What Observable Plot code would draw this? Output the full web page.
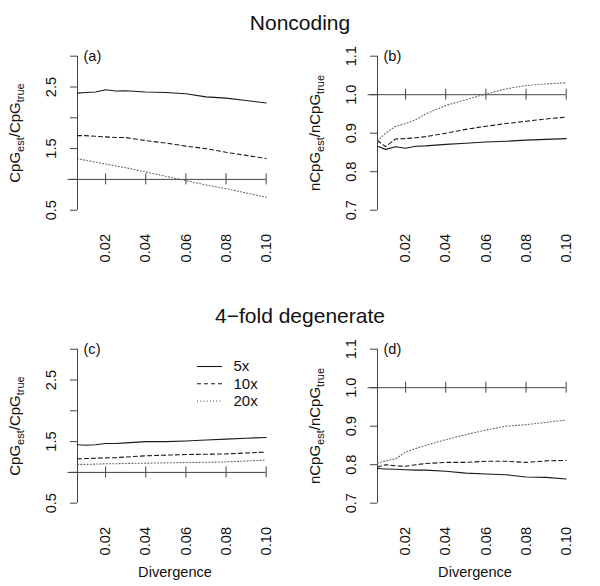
<!DOCTYPE html>
<html><head><meta charset="utf-8">
<script src="https://cdn.jsdelivr.net/npm/d3@7"></script>
<script src="https://cdn.jsdelivr.net/npm/@observablehq/plot@0.6"></script>
<style>
body{margin:0;background:#fff;}
#wrap{position:relative;width:600px;height:586px;font-family:"Liberation Sans",Arial,Helvetica,sans-serif;color:#111;overflow:hidden;}
.title{position:absolute;left:0;width:600px;text-align:center;font-size:21px;line-height:21px;}
.panel{position:absolute;width:300px;height:293px;}
.panel svg{overflow:visible;}
</style></head><body>
<div id="wrap">
  <div class="title" style="top:12px">Noncoding</div>
  <div class="title" style="top:305px">4−fold degenerate</div>
  <div class="panel" id="pa" style="left:0;top:0"></div>
  <div class="panel" id="pb" style="left:300px;top:0"></div>
  <div class="panel" id="pc" style="left:0;top:293px"></div>
  <div class="panel" id="pd" style="left:300px;top:293px"></div>
</div>
<script>
// ---- data ----
const divergence = [0.006, 0.01, 0.015, 0.02, 0.025, 0.03, 0.04, 0.05, 0.06, 0.07, 0.08, 0.09, 0.10];
const coverage = ["5x", "10x", "20x"];
const xTicks = [0.02, 0.04, 0.06, 0.08, 0.10];
const cpgTicks = [3.0, 2.5, 2.0, 1.5, 1.0, 0.5];
const cpgTickLabels = [2.5, 1.5, 0.5];
const ncpgTicks = [1.1, 1.0, 0.9, 0.8, 0.7];
const ncpgTickLabels = [1.1, 1.0, 0.9, 0.8, 0.7];

// (a) Noncoding CpG ratio
const ncCpG5x  = [2.40, 2.41, 2.42, 2.455, 2.435, 2.44, 2.42, 2.41, 2.39, 2.34, 2.32, 2.28, 2.24];
const ncCpG10x = [1.71, 1.71, 1.70, 1.69, 1.68, 1.68, 1.63, 1.59, 1.54, 1.50, 1.44, 1.39, 1.34];
const ncCpG20x = [1.34, 1.31, 1.28, 1.25, 1.22, 1.19, 1.12, 1.05, 0.98, 0.91, 0.85, 0.78, 0.71];
// (b) Noncoding nCpG ratio
const ncNonCpG5x  = [0.866, 0.858, 0.865, 0.861, 0.866, 0.867, 0.871, 0.874, 0.877, 0.879, 0.882, 0.884, 0.886];
const ncNonCpG10x = [0.881, 0.865, 0.885, 0.886, 0.888, 0.891, 0.900, 0.910, 0.918, 0.925, 0.931, 0.937, 0.942];
const ncNonCpG20x = [0.880, 0.900, 0.918, 0.925, 0.935, 0.950, 0.972, 0.987, 1.002, 1.015, 1.024, 1.028, 1.031];
// (c) 4-fold CpG ratio
const ffCpG5x  = [1.45, 1.44, 1.45, 1.47, 1.47, 1.48, 1.50, 1.50, 1.51, 1.525, 1.54, 1.555, 1.567];
const ffCpG10x = [1.22, 1.225, 1.23, 1.235, 1.24, 1.25, 1.27, 1.28, 1.29, 1.295, 1.30, 1.315, 1.33];
const ffCpG20x = [1.13, 1.13, 1.135, 1.14, 1.14, 1.145, 1.15, 1.155, 1.16, 1.165, 1.17, 1.185, 1.20];
// (d) 4-fold nCpG ratio
const ffNonCpG5x  = [0.790, 0.789, 0.788, 0.787, 0.786, 0.786, 0.783, 0.778, 0.776, 0.774, 0.768, 0.767, 0.763];
const ffNonCpG10x = [0.794, 0.800, 0.797, 0.796, 0.800, 0.803, 0.806, 0.806, 0.809, 0.809, 0.806, 0.810, 0.811];
const ffNonCpG20x = [0.804, 0.810, 0.815, 0.833, 0.842, 0.850, 0.865, 0.878, 0.890, 0.900, 0.904, 0.910, 0.916];

// ---- styles ----
const FONT = '"Liberation Sans", Arial, Helvetica, sans-serif';
const AXIS = "#444";
const lineStyles = [
  {stroke: "#1a1a1a", strokeWidth: 1.1, strokeDasharray: null},
  {stroke: "#1a1a1a", strokeWidth: 1.1, strokeDasharray: "4,3"},
  {stroke: "#666", strokeWidth: 1.1, strokeDasharray: "1,2.2"}
];

function panel(el, {letter, series, yTicks, yLabels, yFormat, yName, showXTitle, legend}) {
  const W = 300, H = 293, mL = 77, mR = 34.3, mT = 55.7, mB = 83.3;
  const x0 = divergence[0];
  const xDom = [x0, d3.max(xTicks)];
  const yDom = [d3.min(yTicks), d3.max(yTicks)];
  const kx = (xDom[1] - xDom[0]) / (W - mL - mR);
  const ky = (yDom[1] - yDom[0]) / (H - mT - mB);
  const marks = [
    Plot.ruleX([x0], {y1: yDom[0], y2: yDom[1], stroke: AXIS}),
    Plot.ruleY(yTicks, {x1: x0 - 7 * kx, x2: x0, stroke: AXIS}),
    Plot.text(yLabels, {x: x0, y: d => d, text: yFormat, rotate: -90, dx: -26, textAnchor: "middle", lineAnchor: "middle", fill: "#111"}),
    Plot.ruleY([1], {x1: x0 - 9.5 * kx, x2: xDom[1], stroke: AXIS}),
    Plot.ruleX(xTicks, {y1: 1 - 5.5 * ky, y2: 1 + 5.5 * ky, stroke: AXIS}),
    Plot.text(xTicks, {x: d => d, frameAnchor: "bottom", text: d => d.toFixed(2), rotate: -90, dy: 38, textAnchor: "middle", lineAnchor: "middle", fill: "#111"}),
    Plot.text([letter], {x: x0, y: yDom[1], dx: 6, textAnchor: "start", lineAnchor: "middle", fill: "#111"}),
    ...series.map((vals, i) => Plot.line(vals, {x: divergence, y: vals, ...lineStyles[i]}))
  ];
  if (showXTitle) {
    marks.push(Plot.text(["Divergence"], {frameAnchor: "bottom-left", dx: 174.5 - mL, dy: 69, textAnchor: "middle", lineAnchor: "middle", fill: "#111"}));
  }
  if (legend) {
    coverage.forEach((lab, i) => {
      const yv = yDom[1] - (73 + 17.3 * i - mT) * ky;
      marks.push(Plot.ruleY([yv], {x1: x0 + (197 - mL) * kx, x2: x0 + (222 - mL) * kx, ...lineStyles[i]}));
      marks.push(Plot.text([lab], {x: x0 + (233 - mL) * kx, y: yv, textAnchor: "start", lineAnchor: "middle", fill: "#111", fontSize: 15}));
    });
  }
  const svg = Plot.plot({
    width: W, height: H,
    marginLeft: mL, marginRight: mR, marginTop: mT, marginBottom: mB,
    x: {domain: xDom, axis: null},
    y: {domain: yDom, axis: null},
    style: {fontFamily: FONT, fontSize: "14.6px", background: "transparent", overflow: "visible"},
    marks
  });
  // y-axis title with subscripts
  const t = d3.select(svg).append("text")
    .attr("transform", "translate(20,133) rotate(-90)")
    .attr("text-anchor", "middle")
    .attr("font-family", FONT)
    .attr("font-size", 15)
    .attr("fill", "#111");
  t.append("tspan").text(yName);
  t.append("tspan").attr("font-size", 11).attr("dy", 4).text("est");
  t.append("tspan").attr("dy", -4).text("/" + yName);
  t.append("tspan").attr("font-size", 11).attr("dy", 4).text("true");
  document.getElementById(el).appendChild(svg);
}

const fmt1 = d => d.toFixed(1);
panel("pa", {letter: "(a)", series: [ncCpG5x, ncCpG10x, ncCpG20x], yTicks: cpgTicks, yLabels: cpgTickLabels, yFormat: fmt1, yName: "CpG"});
panel("pb", {letter: "(b)", series: [ncNonCpG5x, ncNonCpG10x, ncNonCpG20x], yTicks: ncpgTicks, yLabels: ncpgTickLabels, yFormat: fmt1, yName: "nCpG"});
panel("pc", {letter: "(c)", series: [ffCpG5x, ffCpG10x, ffCpG20x], yTicks: cpgTicks, yLabels: cpgTickLabels, yFormat: fmt1, yName: "CpG", showXTitle: true, legend: true});
panel("pd", {letter: "(d)", series: [ffNonCpG5x, ffNonCpG10x, ffNonCpG20x], yTicks: ncpgTicks, yLabels: ncpgTickLabels, yFormat: fmt1, yName: "nCpG", showXTitle: true});
</script>
</body></html>
